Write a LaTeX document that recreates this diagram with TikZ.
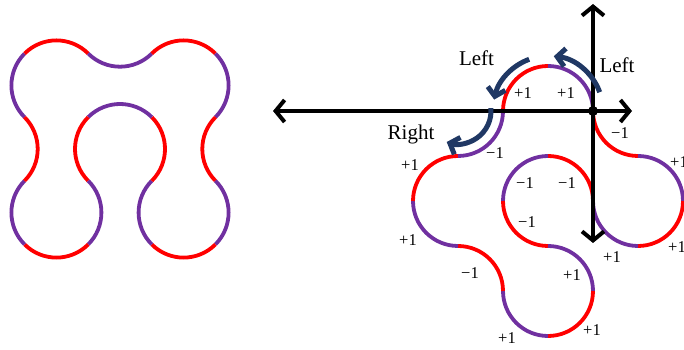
\documentclass[tikz,border=0pt]{standalone}
\usepackage{fontspec}
\setmainfont{Liberation Serif}
\usetikzlibrary{arrows.meta}
\definecolor{loopred}   {HTML}{FF0000}
\definecolor{looppurple}{HTML}{7030A0}
\definecolor{turnblue}  {HTML}{203864}

\begin{document}
\begin{tikzpicture}[x=1pt, y=1pt,
    seg/.style={line width=3.8pt},
    axis/.style={line width=4pt,
      {Straight Barb[length=9pt,width=22pt]}-{Straight Barb[length=9pt,width=22pt]}},
    turn/.style={turnblue, line width=5pt, -{Straight Barb[length=8pt,width=18pt]}},
    val/.style={font=\fontsize{16.5}{18}\selectfont, inner sep=0pt},
    word/.style={font=\fontsize{21}{24}\selectfont, inner sep=0pt}]
  \useasboundingbox (0,0) rectangle (684,350);

  % left loop: arc centres
  \coordinate (tl)  at (56.4,264.6);
  \coordinate (dip) at (120,328.3);
  \coordinate (tr)  at (183.6,264.6);
  \coordinate (rm)  at (247.3,201);
  \coordinate (br)  at (183.6,137.4);
  \coordinate (im)  at (120,201);
  \coordinate (bl)  at (56.4,137.4);
  \coordinate (lm)  at (-7.3,201);
  \foreach \c/\a/\col in {tl/135/looppurple, tl/45/loopred, dip/225/looppurple,
      tr/45/loopred, tr/-45/looppurple, rm/135/loopred,
      br/-45/looppurple, br/-135/loopred, br/135/looppurple,
      im/-45/loopred, im/45/looppurple, im/135/loopred,
      bl/-45/looppurple, bl/-135/loopred, bl/135/looppurple, lm/-45/loopred}
    \draw[seg, \col] (\c) ++(\a:45pt) arc[start angle=\a, delta angle=90, radius=45pt];

  % right loop: arc centres
  \coordinate (a) at (548,239);
  \coordinate (b) at (638,239);
  \coordinate (c) at (638,149);
  \coordinate (d) at (548,149);
  \coordinate (e) at (548,59);
  \coordinate (f) at (458,59);
  \coordinate (g) at (458,149);
  \coordinate (h) at (458,239);
  \foreach \c/\a/\col in {b/180/loopred,
      c/0/looppurple, c/270/loopred, c/180/looppurple,
      d/0/loopred, d/90/looppurple, d/180/loopred,
      e/0/looppurple, e/270/loopred, e/180/looppurple,
      f/0/loopred, g/180/looppurple, g/90/loopred,
      h/270/looppurple, a/90/loopred, a/0/looppurple}
    \draw[seg, \col] (\c) ++(\a:45pt) arc[start angle=\a, delta angle=90, radius=45pt];

  % axes
  \coordinate (o)  at (593,239);
  \coordinate (xl) at (273,239);
  \coordinate (xr) at (632,239);
  \coordinate (yt) at (593,346);
  \coordinate (yb) at (593,107);
  \draw[axis] (xl) -- (xr);
  \draw[axis] (yb) -- (yt);
  \fill (o) circle[radius=5pt];

  % turning arrows
  \draw[turn] (a) ++(20:55pt) arc[start angle=20, end angle=84, radius=55pt];
  \draw[turn] (a) ++(110:55pt) arc[start angle=110, end angle=168, radius=55pt];
  \draw[turn] (h) ++(5:33pt) arc[start angle=5, end angle=-110, radius=33pt];
  \node[word] (left1)  at (476.5,292) {Left};
  \node[word] (left2)  at (617,285) {Left};
  \node[word] (right1) at (411,216) {Right};

  % arc values
  \foreach \n/\x/\y/\t in {1/523/257/+1, 2/566/257/+1, 3/620/217/−1, 4/679/188/+1,
      5/495/197/−1, 6/410/185/+1, 7/525/167/−1, 8/567/167/−1,
      9/527/128/−1, 10/408/110/+1, 11/612/93/+1, 12/677/103/+1,
      13/470/77/−1, 14/572/75/+1, 15/592/20/+1, 16/507/12/+1}
    \node[val] (v\n) at (\x,\y) {\t};
\end{tikzpicture}
\end{document}
